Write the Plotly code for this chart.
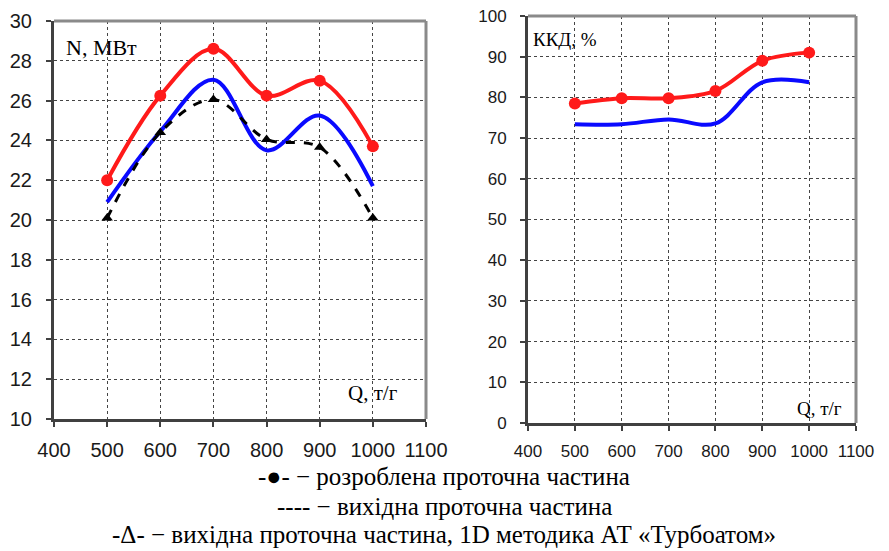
import plotly.graph_objects as go

Q = [500, 600, 700, 800, 900, 1000]
N_new = [22.0, 26.25, 28.6, 26.25, 27.0, 23.7]
N_orig = [20.9, 24.45, 27.05, 23.5, 25.25, 21.7]
N_1d = [20.1, 24.4, 26.05, 24.05, 23.65, 20.1]
eff_new = [78.5, 79.8, 79.8, 81.6, 89.0, 91.0]
eff_orig = [73.4, 73.4, 74.6, 73.6, 83.7, 83.7]

x_ticks = [400, 500, 600, 700, 800, 900, 1000, 1100]
n_ticks = [10, 12, 14, 16, 18, 20, 22, 24, 26, 28, 30]
eff_ticks = [0, 10, 20, 30, 40, 50, 60, 70, 80, 90, 100]

RED = "#ff1a1a"
BLUE = "#0a0aff"
SERIF = "Liberation Serif"
SANS = "Liberation Sans"

fig = go.Figure()

fig.add_trace(go.Scatter(x=Q, y=N_orig, mode="lines", line=dict(color=BLUE, width=4, shape="spline", smoothing=1),
                         xaxis="x", yaxis="y", showlegend=False))
fig.add_trace(go.Scatter(x=Q, y=N_1d, mode="lines+markers",
                         line=dict(color="black", width=3, dash="dash", shape="spline", smoothing=1),
                         marker=dict(symbol="triangle-up", size=10, color="black"),
                         xaxis="x", yaxis="y", showlegend=False))
fig.add_trace(go.Scatter(x=Q, y=N_new, mode="lines+markers",
                         line=dict(color=RED, width=4, shape="spline", smoothing=1),
                         marker=dict(symbol="circle", size=12, color=RED),
                         xaxis="x", yaxis="y", showlegend=False))

fig.add_trace(go.Scatter(x=Q, y=eff_orig, mode="lines", line=dict(color=BLUE, width=4, shape="spline", smoothing=1),
                         xaxis="x2", yaxis="y2", showlegend=False))
fig.add_trace(go.Scatter(x=Q, y=eff_new, mode="lines+markers",
                         line=dict(color=RED, width=4, shape="spline", smoothing=1),
                         marker=dict(symbol="circle", size=12, color=RED),
                         xaxis="x2", yaxis="y2", showlegend=False))

W, H = 889, 551
def px(x):
    return x / W
def py(y):
    return (H - y) / H

grid = dict(showgrid=True, gridcolor="#444444", gridwidth=1, griddash="dot")
axcommon = dict(showline=True, linecolor="#404040", linewidth=3, ticks="outside", ticklen=5,
                tickcolor="#404040", tickwidth=2, zeroline=False, automargin=False, **grid)

fig.update_layout(
    template="none",
    width=W, height=H, margin=dict(l=0, r=0, t=0, b=0, pad=0), autosize=False,
    paper_bgcolor="white", plot_bgcolor="white",
    xaxis=dict(domain=[px(54), px(426)], range=[400, 1100], tickvals=x_ticks, anchor="y",
               ticklabelstandoff=6,
               tickfont=dict(family=SANS, size=20, color="#1a1a1a"), **axcommon),
    yaxis=dict(domain=[py(419), py(21)], range=[10, 30], tickvals=n_ticks, anchor="x",
               ticklabelstandoff=10,
               tickfont=dict(family=SANS, size=20, color="#1a1a1a"), **axcommon),
    xaxis2=dict(domain=[px(528), px(856)], range=[400, 1100], tickvals=x_ticks, anchor="y2",
                ticklabelstandoff=6,
                tickfont=dict(family=SANS, size=17, color="#1a1a1a"), **axcommon),
    yaxis2=dict(domain=[py(423), py(16)], range=[0, 100], tickvals=eff_ticks, anchor="x2",
                ticklabelstandoff=10,
                tickfont=dict(family=SANS, size=17, color="#1a1a1a"), **axcommon),
)

# gray frame top/right
for xr, yr in [("x domain", "y domain"), ("x2 domain", "y2 domain")]:
    fig.add_shape(type="line", xref=xr, yref=yr, x0=0, x1=1, y0=1, y1=1, line=dict(color="#8a8a8a", width=3))
    fig.add_shape(type="line", xref=xr, yref=yr, x0=1, x1=1, y0=0, y1=1, line=dict(color="#8a8a8a", width=3))

fig.add_annotation(text="N, МВт", xref="paper", yref="paper", x=px(64), y=py(47), xanchor="left", yanchor="middle",
                   showarrow=False, font=dict(family=SERIF, size=22, color="black"))
fig.add_annotation(text="Q, т/г", xref="paper", yref="paper", x=px(346), y=py(393), xanchor="left", yanchor="middle",
                   showarrow=False, font=dict(family=SERIF, size=21, color="black"))
fig.add_annotation(text="ККД, %", xref="paper", yref="paper", x=px(531), y=py(39), xanchor="left", yanchor="middle",
                   showarrow=False, font=dict(family=SERIF, size=19, color="black"))
fig.add_annotation(text="Q, т/г", xref="paper", yref="paper", x=px(795), y=py(408), xanchor="left", yanchor="middle",
                   showarrow=False, font=dict(family=SERIF, size=19, color="black"))

legend_lines = [
    "-●- − розроблена проточна частина",
    "---- − вихідна проточна частина",
    "-Δ- − вихідна проточна частина, 1D методика АТ «Турбоатом»",
]
legend_y = [476, 506, 534]
for t, yy in zip(legend_lines, legend_y):
    fig.add_annotation(text=t, xref="paper", yref="paper", x=px(444), y=py(yy), xanchor="center",
                       yanchor="middle", showarrow=False, borderpad=0,
                       font=dict(family=SERIF, size=25, color="black"))

fig.write_html("out.html")
